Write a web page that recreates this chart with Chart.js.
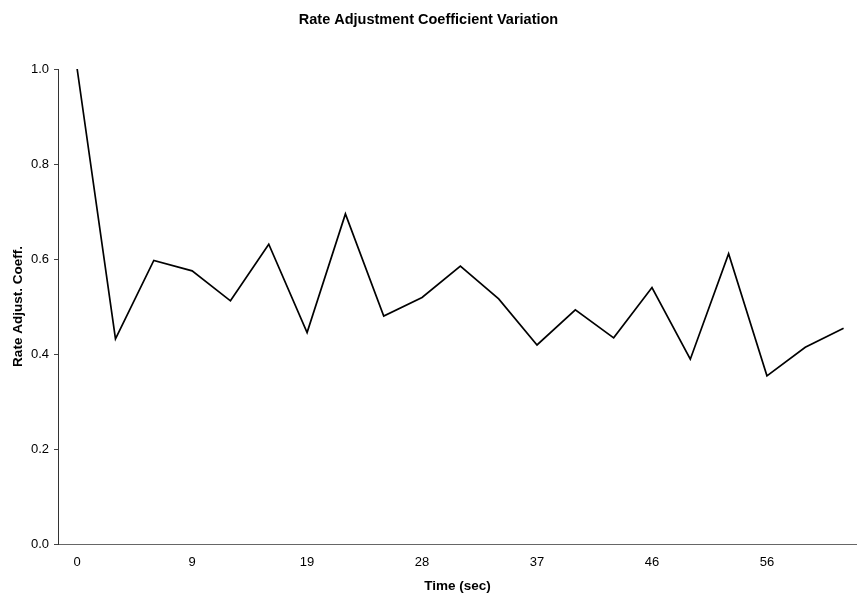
<!DOCTYPE html>
<html>
<head>
<meta charset="utf-8">
<script src="https://cdn.jsdelivr.net/npm/chart.js@4"></script>
<style>
  html, body { margin: 0; padding: 0; background: #fff; }
  #wrap { width: 857px; height: 595px; }
</style>
</head>
<body>
<div id="wrap"><canvas id="rateChart" width="857" height="595"></canvas></div>
<script>
// Time labels (sec) for each sample, only every 3rd one is shown
const timeLabels = ['0', '3', '6', '9', '12', '16', '19', '22', '25', '28', '31',
                    '34', '37', '40', '43', '46', '50', '53', '56', '59', '62'];

// Rate adjustment coefficient
const rateCoeff = [1.0, 0.432, 0.597, 0.575, 0.512, 0.631, 0.445, 0.695, 0.48, 0.519, 0.585,
                   0.516, 0.419, 0.493, 0.434, 0.540, 0.389, 0.611, 0.354, 0.414, 0.454];

// y-axis ticks
const yTicks = [0.0, 0.2, 0.4, 0.6, 0.8, 1.0];

const FONT = "'Liberation Sans', Arial, Helvetica, sans-serif";

const points = rateCoeff.map((v, i) => ({ x: i, y: v }));

new Chart(document.getElementById('rateChart'), {
    type: 'line',
    data: {
        datasets: [{
            label: 'Rate Adjust. Coeff.',
            data: points,
            borderColor: '#000',
            borderWidth: 1.7,
            pointRadius: 0,
            tension: 0,
            fill: false
        }]
    },
    options: {
        responsive: false,
        animation: false,
        layout: { padding: 0 },
        plugins: {
            legend: { display: false },
            tooltip: { enabled: false },
            title: {
                display: true,
                text: 'Rate Adjustment Coefficient Variation',
                color: '#000',
                font: { family: FONT, size: 14.5, weight: 'bold' },
                padding: { top: 11, bottom: 40.6 }
            }
        },
        scales: {
            x: {
                type: 'linear',
                min: -0.5,
                max: 20.35,
                afterFit: s => { s.height = 51; },
                afterBuildTicks: s => {
                    s.ticks = timeLabels.map((t, i) => ({ value: i })).filter(t => t.value % 3 === 0);
                },
                ticks: {
                    autoSkip: false,
                    maxRotation: 0,
                    padding: 3,
                    color: '#000',
                    font: { family: FONT, size: 13 },
                    callback: v => timeLabels[v]
                },
                grid: { display: false },
                border: { display: true, color: '#666', width: 1 },
                title: {
                    display: true,
                    text: 'Time (sec)',
                    color: '#000',
                    font: { family: FONT, size: 13.5, weight: 'bold' },
                    padding: { top: 0, bottom: 1 }
                }
            },
            y: {
                min: 0,
                max: 1,
                afterFit: s => { s.width = 58; },
                afterBuildTicks: s => {
                    s.ticks = yTicks.map(v => ({ value: v }));
                },
                ticks: {
                    padding: 5,
                    color: '#000',
                    font: { family: FONT, size: 13 },
                    callback: v => Number(v).toFixed(1)
                },
                grid: {
                    drawOnChartArea: false,
                    drawTicks: true,
                    tickLength: 4,
                    color: '#444'
                },
                border: { display: true, color: '#333', width: 1 },
                title: {
                    display: true,
                    text: 'Rate Adjust. Coeff.',
                    color: '#000',
                    font: { family: FONT, size: 13.5, weight: 'bold' },
                    padding: { top: 10, bottom: 0 }
                }
            }
        }
    }
});
</script>
</body>
</html>
